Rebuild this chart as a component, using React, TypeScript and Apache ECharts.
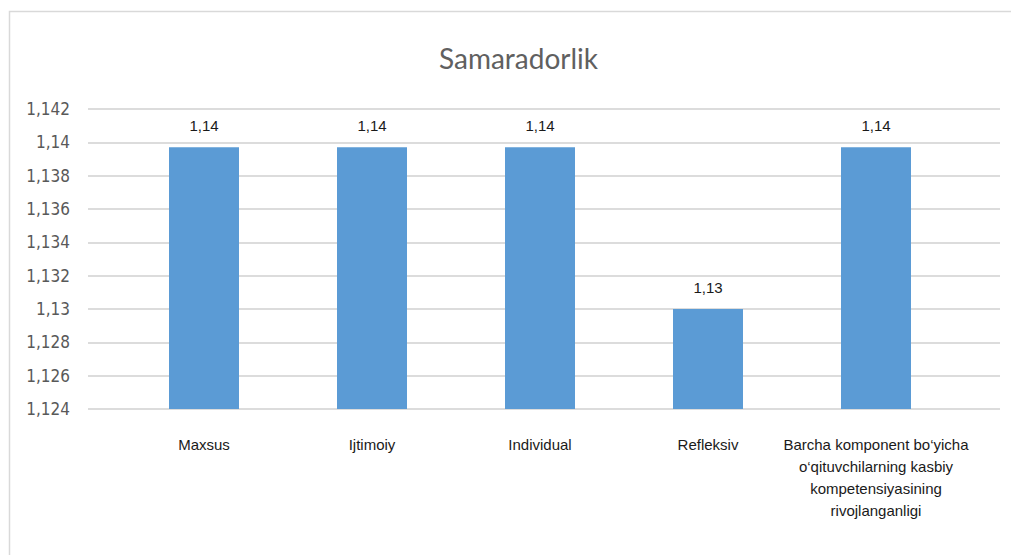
import React, { useEffect, useRef } from "react";
import * as echarts from "echarts";

const categories = [
  "Maxsus",
  "Ijtimoiy",
  "Individual",
  "Refleksiv",
  "Barcha komponent bo‘yicha\no‘qituvchilarning kasbiy\nkompetensiyasining\nrivojlanganligi",
];
const values = [1.1397, 1.1397, 1.1397, 1.13, 1.1397];
const yMin = 1.124;
const yMax = 1.142;
const yStep = 0.002;
const title = "Samaradorlik";

const fmtTick = (v: number) => String(parseFloat(v.toFixed(3))).replace(".", ",");
const fmtLabel = (v: number) => v.toFixed(2).replace(".", ",");

export default function App() {
  const ref = useRef<HTMLDivElement>(null);
  useEffect(() => {
    if (!ref.current) return;
    const chart = echarts.init(ref.current, null, { renderer: "svg" });
    chart.setOption({
      animation: false,
      backgroundColor: "#ffffff",
      title: {
        text: title,
        left: 434,
        top: 39,
        textStyle: {
          fontFamily: "Lato",
          fontSize: 28,
          fontWeight: "normal",
          color: "#606060",
        },
      },
      graphic: [
        {
          type: "rect",
          shape: { x: 9.5, y: 11.5, width: 1100, height: 700 },
          style: { fill: "none", stroke: "#d9d9d9", lineWidth: 1.5 },
          silent: true,
        },
      ],
      grid: [
        { left: 88, right: 11, top: 109, height: 300 },
        { left: 120, right: 51, top: 109, height: 300 },
      ],
      xAxis: [
        { type: "category", gridIndex: 0, data: categories, show: false },
        {
          type: "category",
          gridIndex: 1,
          data: categories,
          axisLine: { show: false },
          axisTick: { show: false },
          axisLabel: {
            interval: 0,
            margin: 24,
            fontFamily: "Liberation Sans",
            fontSize: 15,
            lineHeight: 22,
            color: "#1a1a1a",
            align: "center",
          },
        },
      ],
      yAxis: [
        {
          type: "value",
          gridIndex: 0,
          min: yMin,
          max: yMax,
          interval: yStep,
          axisLine: { show: false },
          axisTick: { show: false },
          splitLine: { lineStyle: { color: "#d0d0d0", width: 1.5 } },
          axisLabel: {
            margin: 18,
            fontFamily: "'DejaVu Sans Condensed', 'Liberation Sans', sans-serif",
            fontSize: 17,
            color: "#595959",
            formatter: (v: number) => fmtTick(v),
          },
        },
        {
          type: "value",
          gridIndex: 1,
          min: yMin,
          max: yMax,
          interval: yStep,
          show: false,
          splitLine: { show: false },
        },
      ],
      series: [
        {
          type: "bar",
          xAxisIndex: 1,
          yAxisIndex: 1,
          data: values,
          barWidth: 70,
          itemStyle: { color: "#5B9BD5" },
          label: {
            show: true,
            position: "top",
            distance: 14,
            fontFamily: "Liberation Sans",
            fontSize: 15,
            color: "#1a1a1a",
            formatter: (p: any) => fmtLabel(p.value),
          },
        },
      ],
    });
    return () => chart.dispose();
  }, []);
  return (
    <div
      ref={ref}
      style={{ position: "absolute", left: 0, top: 0, width: 1011, height: 555 }}
    />
  );
}
